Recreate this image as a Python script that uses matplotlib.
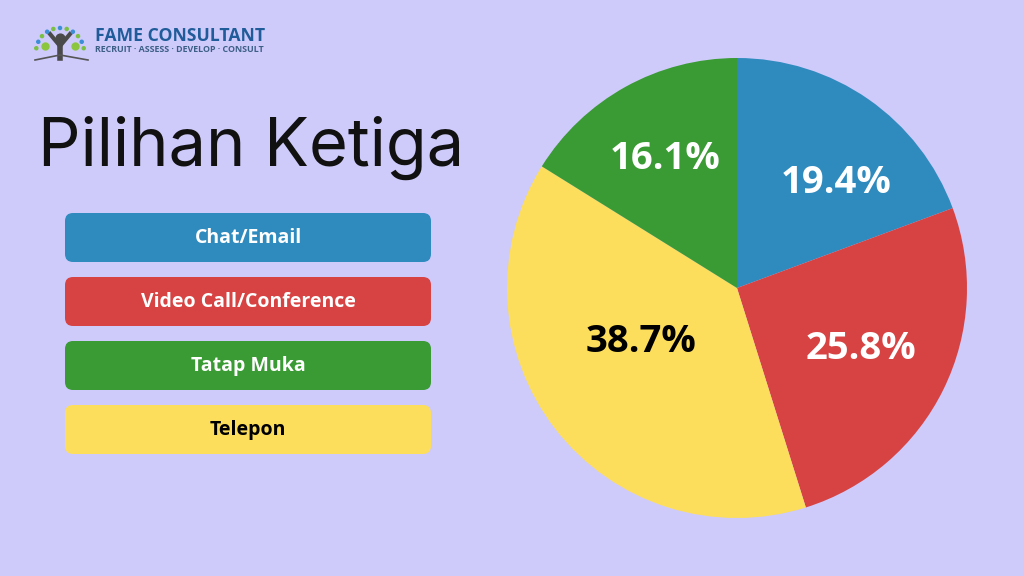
import matplotlib.pyplot as plt
from matplotlib.patches import FancyBboxPatch
import numpy as np

# data
categories = ["Chat/Email", "Video Call/Conference", "Tatap Muka", "Telepon"]
pie_order = ["Chat/Email", "Video Call/Conference", "Telepon", "Tatap Muka"]
pie_values = [6, 8, 12, 5]
colors = {"Chat/Email": "#2F8BBE", "Video Call/Conference": "#D74343",
          "Tatap Muka": "#3A9A34", "Telepon": "#FDDD5C"}
text_colors = {"Chat/Email": "white", "Video Call/Conference": "white",
               "Tatap Muka": "white", "Telepon": "black"}
label_dist = [0.63, 0.60, 0.48, 0.64]
label_rot = [-8.5, 0, -8.7, 0]

bg = "#CECBFB"

fig = plt.figure(figsize=(10.24, 5.76), dpi=100)
fig.patch.set_facecolor(bg)
ax = fig.add_axes([0, 0, 1, 1])
ax.set_facecolor(bg)
ax.axis("off")

H = 576

# logo
ax.text(95, H - 41, "FAME CONSULTANT", fontsize=12.7, fontweight="bold",
        color="#1F5C99", family="Open Sans", va="baseline")
ax.text(95, H - 52, "RECRUIT · ASSESS · DEVELOP · CONSULT", fontsize=6.4,
        fontweight="bold", color="#3D5F86", family="Open Sans", va="baseline")
ang = np.linspace(np.pi * 0.95, np.pi * 0.05, 11)
ax.scatter(60 + 24 * np.cos(ang), H - 52 + 24 * np.sin(ang), s=5,
           color=["#3C8FD6" if i % 2 else "#7BC043" for i in range(11)], zorder=3)
ax.scatter([60], [H - 38], s=40, color="#4A4A4A", zorder=3)
ax.plot([50, 60, 70], [H - 34, H - 46, H - 34], color="#4A4A4A", lw=3)
ax.plot([60, 60], [H - 46, H - 58], color="#4A4A4A", lw=4)
ax.scatter([45, 75], [H - 46, H - 46], s=25, color="#8CC63F", zorder=3)
ax.plot([35, 60, 88], [H - 60, H - 55, H - 60], color="#555555", lw=1.2)

# title
ax.text(38, H - 166, "Pilihan Ketiga", fontsize=48, family="Inter",
        color="#111111", va="baseline")

# legend boxes
box_top = [213, 277, 341, 405]
for cat, top in zip(categories, box_top):
    box = FancyBboxPatch((65 + 8, H - top - 49 + 8), 366 - 16, 49 - 16,
                         boxstyle="round,pad=8", fc=colors[cat], ec="none")
    ax.add_patch(box)
    ax.text(248, H - top - 25, cat, fontsize=14, fontweight="bold",
            family="Open Sans", color=text_colors[cat], ha="center", va="center")

# pie
cx, cy, r = 737, H - 288, 230
wedges, _ = ax.pie(pie_values, colors=[colors[c] for c in pie_order],
                   startangle=90, counterclock=False, center=(cx, cy), radius=r,
                   wedgeprops=dict(linewidth=0))
ax.set_xlim(0, 1024)
ax.set_ylim(0, 576)
ax.set_aspect("equal")
total = sum(pie_values)
for w, v, cat, d, rot in zip(wedges, pie_values, pie_order, label_dist, label_rot):
    mid = np.deg2rad((w.theta1 + w.theta2) / 2 + rot)
    ax.text(cx + d * r * np.cos(mid), cy + d * r * np.sin(mid),
            f"{v / total * 100:.1f}%", fontsize=27.5, fontweight="bold",
            family="Open Sans", color=text_colors[cat], ha="center", va="center")

fig.savefig("out.png", dpi=100, facecolor=bg)
